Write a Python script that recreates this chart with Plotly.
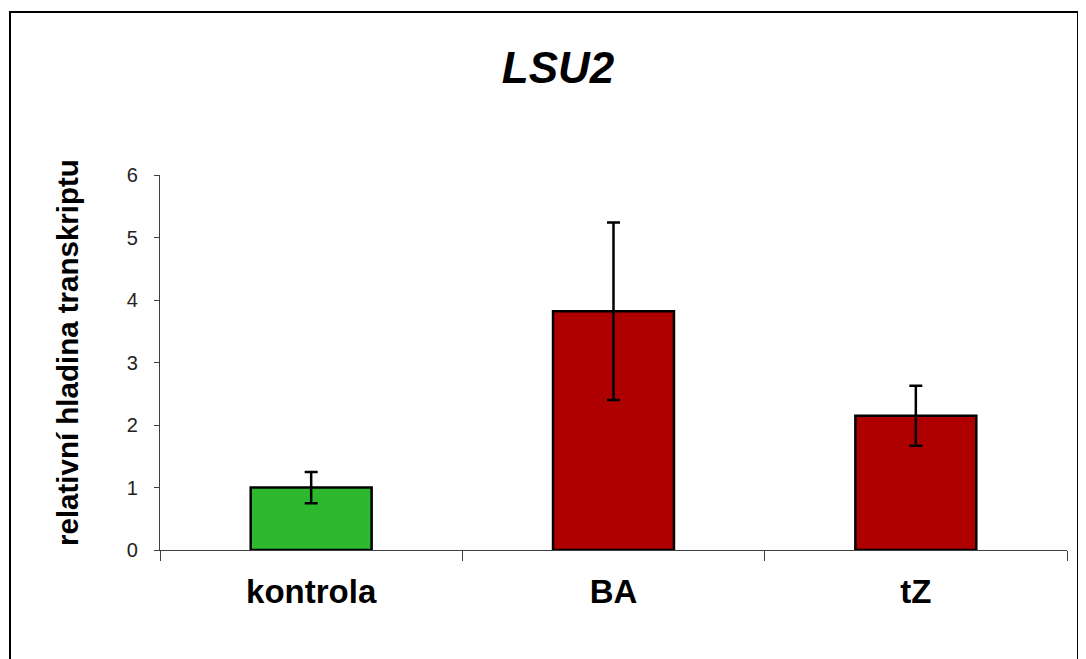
import plotly.graph_objects as go

categories = ["kontrola", "BA", "tZ"]
values = [1.0, 3.82, 2.15]
errors = [0.25, 1.42, 0.48]
colors = ["#2EB82E", "#AE0000", "#AE0000"]
y_ticks = [0, 1, 2, 3, 4, 5, 6]

FONT = "Liberation Sans, Arial, sans-serif"

fig = go.Figure()
fig.add_trace(go.Bar(
    x=categories, y=values,
    width=0.40,
    marker=dict(color=colors, line=dict(color="black", width=2.5)),
    error_y=dict(type="data", array=errors, visible=True,
                 color="black", thickness=2.5, width=6.5),
    showlegend=False,
))

OFF = 8  # browser body margin
W, H = 1086 - OFF, 659 - OFF
L, R, T, B = 160 - OFF, 1067 - OFF, 175 - OFF, 550 - OFF

fig.update_layout(
    width=W, height=H,
    margin=dict(l=L, r=W - R, t=T, b=H - B),
    paper_bgcolor="white", plot_bgcolor="white",
    font=dict(family=FONT, color="black"),
    title=dict(text="<b><i>LSU2</i></b>", x=(558 - OFF) / W, xanchor="center",
               y=1 - (68 - OFF) / H, yanchor="middle", xref="container", yref="container",
               font=dict(size=44, family=FONT, color="black")),
    xaxis=dict(
        showline=True, linecolor="#404040", linewidth=1.3,
        ticks="outside", tickson="boundaries", ticklen=10, tickcolor="#404040",
        tickwidth=1.3,
        tickfont=dict(size=33, family=FONT, color="black", weight="bold"),
        showgrid=False, zeroline=False,
        ticklabelstandoff=12,
    ),
    yaxis=dict(
        range=[0, 6], tickvals=y_ticks,
        showline=True, linecolor="#404040", linewidth=1.3,
        ticks="outside", ticklen=5, tickcolor="#404040", tickwidth=1.3,
        tickfont=dict(size=20, family=FONT, color="#222222"),
        showgrid=False, zeroline=False,
        ticklabelstandoff=12,
    ),
)

pw, ph = R - L, B - T
fig.add_annotation(text="<b>relativní hladina transkriptu</b>", textangle=-90,
                   xref="paper", yref="paper",
                   x=(67 - OFF - L) / pw, y=(B - (353 - OFF)) / ph,
                   xanchor="center", yanchor="middle", showarrow=False,
                   font=dict(size=29.5, family=FONT, color="black"))

fig.add_shape(type="rect", xref="paper", yref="paper",
              x0=(10 - OFF - L) / pw, x1=(1078 - OFF - L) / pw,
              y0=(B - 700) / ph, y1=(B - (12 - OFF)) / ph,
              line=dict(color="black", width=2), fillcolor="rgba(0,0,0,0)",
              layer="below")

fig.write_html("out.html")
